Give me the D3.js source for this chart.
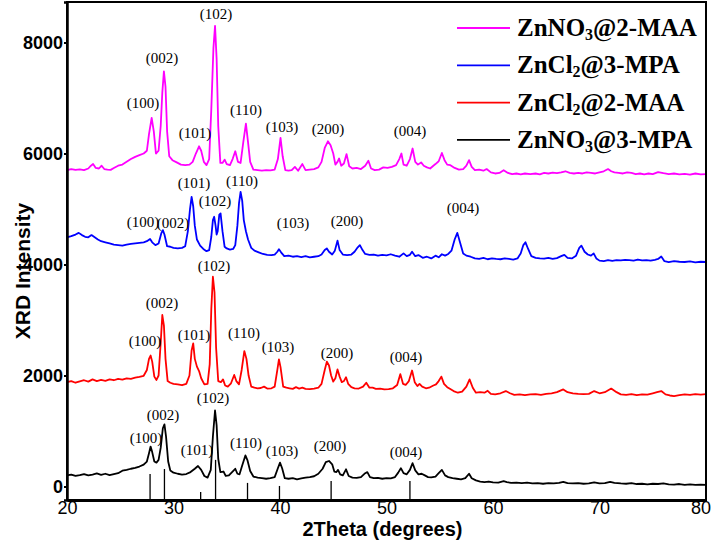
<!DOCTYPE html>
<html>
<head>
<meta charset="utf-8">
<script src="https://cdn.jsdelivr.net/npm/d3@7"></script>
<style>
  html, body { margin: 0; padding: 0; background: #fff; }
  svg { display: block; }
</style>
</head>
<body>
<svg id="chart" width="715" height="540"></svg>
<script>
// ---------- DATA ----------
const xTicks = [20, 30, 40, 50, 60, 70, 80];
const yTicks = [0, 2000, 4000, 6000, 8000];

const seriesNames = ["ZnNO3@2-MAA", "ZnCl2@3-MPA", "ZnCl2@2-MAA", "ZnNO3@3-MPA"];
const seriesColors = ["#ff00ff", "#0000ff", "#ff0000", "#000000"];

// [2theta, intensity]
const magentaData = [[20.0,5700],[20.4,5720],[20.8,5705],[21.2,5715],[21.6,5700],[22.0,5730],[22.25,5780],[22.45,5810],[22.7,5740],[23.0,5730],[23.25,5780],[23.5,5720],[23.8,5710],[24.1,5705],[24.4,5740],[24.8,5780],[25.2,5800],[25.6,5850],[26.0,5900],[26.4,5940],[26.8,5970],[27.2,6000],[27.5,6050],[27.7,6350],[27.95,6640],[28.15,6400],[28.35,6000],[28.6,6050],[28.8,6500],[28.95,7100],[29.1,7480],[29.25,7200],[29.4,6400],[29.6,5950],[29.9,5880],[30.3,5840],[30.7,5800],[31.1,5790],[31.5,5800],[31.8,5850],[32.1,6000],[32.4,6130],[32.6,6050],[32.85,5850],[33.1,5790],[33.35,5900],[33.55,6800],[33.75,7900],[33.9,8300],[34.05,7700],[34.2,6500],[34.4,5830],[34.6,5830],[34.8,5890],[35.0,5810],[35.3,5790],[35.55,5900],[35.8,6040],[36.05,5850],[36.3,5830],[36.55,6200],[36.8,6540],[37.0,6200],[37.2,5850],[37.5,5710],[37.9,5700],[38.3,5690],[38.7,5700],[39.1,5695],[39.5,5710],[39.8,5900],[40.05,6280],[40.25,5950],[40.5,5700],[40.8,5690],[41.1,5700],[41.4,5760],[41.7,5690],[42.1,5810],[42.4,5700],[42.8,5710],[43.2,5720],[43.6,5750],[43.9,5850],[44.2,6100],[44.5,6220],[44.75,6150],[45.0,6000],[45.2,5800],[45.4,5850],[45.55,5910],[45.75,5780],[46.0,5820],[46.25,5990],[46.5,5770],[46.8,5730],[47.2,5740],[47.6,5720],[48.0,5780],[48.3,5870],[48.55,5730],[48.9,5700],[49.3,5710],[49.7,5750],[50.1,5740],[50.5,5760],[50.9,5790],[51.2,5900],[51.4,6000],[51.6,5800],[51.9,5780],[52.2,5900],[52.45,6090],[52.7,5850],[52.95,5800],[53.25,5840],[53.5,5780],[53.8,5750],[54.1,5730],[54.4,5780],[54.6,5810],[54.9,5860],[55.2,6010],[55.45,5880],[55.7,5800],[56.0,5790],[56.4,5740],[56.8,5710],[57.2,5720],[57.5,5780],[57.75,5880],[58.0,5760],[58.3,5700],[58.7,5710],[59.1,5690],[59.4,5720],[59.8,5660],[60.2,5640],[60.6,5650],[61.0,5700],[61.4,5650],[61.8,5630],[62.2,5640],[62.6,5625],[63.0,5640],[63.5,5630],[64.0,5640],[64.4,5625],[64.8,5650],[65.2,5640],[65.6,5655],[66.0,5645],[66.4,5660],[66.8,5680],[67.2,5650],[67.6,5640],[68.0,5650],[68.4,5640],[68.8,5660],[69.2,5650],[69.6,5640],[70.0,5660],[70.4,5680],[70.8,5720],[71.1,5680],[71.4,5660],[71.8,5650],[72.2,5640],[72.6,5660],[73.0,5650],[73.4,5630],[73.8,5640],[74.2,5625],[74.6,5640],[75.0,5630],[75.5,5665],[76.0,5645],[76.5,5630],[77.0,5640],[77.5,5625],[78.0,5635],[78.5,5620],[79.0,5640],[79.5,5625],[80.0,5630]];

const blueData = [[20.0,4490],[20.4,4510],[20.8,4540],[21.1,4570],[21.4,4530],[21.7,4500],[22.0,4490],[22.3,4530],[22.6,4490],[22.9,4450],[23.2,4420],[23.6,4400],[24.0,4380],[24.4,4360],[24.8,4350],[25.2,4340],[25.6,4360],[26.0,4370],[26.4,4380],[26.8,4390],[27.2,4400],[27.5,4420],[27.8,4460],[28.0,4400],[28.3,4350],[28.6,4380],[28.85,4560],[29.0,4620],[29.15,4540],[29.4,4330],[29.7,4320],[30.0,4300],[30.4,4290],[30.8,4300],[31.1,4330],[31.35,4600],[31.55,5000],[31.7,5220],[31.85,5050],[32.0,4700],[32.2,4450],[32.5,4340],[32.8,4280],[33.1,4240],[33.35,4260],[33.55,4500],[33.7,4800],[33.82,4860],[33.95,4700],[34.05,4540],[34.15,4600],[34.3,4900],[34.42,4920],[34.6,4600],[34.8,4320],[35.0,4290],[35.3,4270],[35.6,4280],[35.8,4350],[36.0,4700],[36.15,5100],[36.3,5310],[36.45,5150],[36.6,4800],[36.8,4600],[37.0,4450],[37.3,4300],[37.6,4250],[38.0,4220],[38.4,4190],[38.8,4175],[39.2,4170],[39.5,4180],[39.75,4230],[39.9,4275],[40.1,4220],[40.4,4150],[40.8,4160],[41.2,4140],[41.6,4150],[42.0,4135],[42.4,4150],[42.8,4130],[43.2,4140],[43.6,4150],[43.9,4180],[44.2,4260],[44.4,4290],[44.6,4230],[44.9,4180],[45.15,4250],[45.4,4430],[45.6,4260],[45.9,4180],[46.3,4170],[46.7,4180],[47.0,4230],[47.3,4310],[47.5,4350],[47.75,4260],[48.0,4190],[48.4,4175],[48.8,4180],[49.2,4160],[49.6,4175],[50.0,4165],[50.4,4185],[50.8,4160],[51.2,4140],[51.6,4200],[51.9,4150],[52.2,4175],[52.4,4230],[52.7,4150],[53.0,4170],[53.4,4120],[53.8,4140],[54.2,4110],[54.6,4160],[54.9,4130],[55.2,4185],[55.5,4160],[55.8,4190],[56.1,4250],[56.4,4450],[56.65,4570],[56.9,4400],[57.2,4200],[57.5,4160],[57.9,4140],[58.3,4110],[58.7,4100],[59.1,4120],[59.5,4095],[59.9,4110],[60.3,4100],[60.7,4095],[61.1,4110],[61.5,4100],[61.9,4090],[62.3,4110],[62.6,4200],[62.85,4350],[63.05,4400],[63.3,4280],[63.6,4150],[64.0,4120],[64.4,4110],[64.8,4105],[65.2,4120],[65.6,4100],[66.0,4115],[66.4,4150],[66.7,4175],[67.0,4120],[67.4,4110],[67.8,4160],[68.1,4300],[68.3,4340],[68.6,4230],[68.9,4180],[69.2,4160],[69.45,4200],[69.7,4110],[70.0,4070],[70.4,4060],[70.8,4080],[71.2,4065],[71.6,4080],[72.0,4075],[72.4,4085],[72.8,4080],[73.2,4070],[73.6,4090],[74.0,4075],[74.4,4080],[74.8,4070],[75.2,4085],[75.5,4100],[75.8,4145],[76.1,4060],[76.5,4045],[77.0,4060],[77.5,4050],[78.0,4045],[78.5,4055],[79.0,4040],[79.5,4050],[80.0,4045]];

const redData = [[20.0,1880],[20.4,1900],[20.8,1870],[21.2,1895],[21.6,1915],[22.0,1890],[22.4,1930],[22.8,1900],[23.2,1920],[23.6,1905],[24.0,1930],[24.4,1915],[24.8,1940],[25.2,1925],[25.6,1950],[26.0,1940],[26.4,1960],[26.8,1975],[27.2,1995],[27.5,2100],[27.7,2300],[27.85,2360],[28.0,2250],[28.2,1980],[28.4,1920],[28.6,2000],[28.8,2600],[28.95,3090],[29.1,2900],[29.25,2300],[29.45,1900],[29.7,1870],[30.0,1850],[30.4,1840],[30.8,1825],[31.2,1850],[31.5,2000],[31.7,2450],[31.85,2580],[32.0,2300],[32.2,2160],[32.4,2080],[32.6,1950],[32.9,1840],[33.2,1850],[33.4,2200],[33.55,3200],[33.7,3780],[33.85,3500],[34.0,2500],[34.2,1900],[34.45,1880],[34.65,1930],[34.85,1820],[35.1,1800],[35.4,1860],[35.7,2010],[35.9,1900],[36.15,1840],[36.4,2100],[36.65,2440],[36.85,2300],[37.05,2000],[37.3,1800],[37.6,1780],[37.9,1770],[38.2,1775],[38.5,1800],[38.8,1765],[39.2,1770],[39.5,1800],[39.75,2100],[39.9,2290],[40.05,2150],[40.3,1800],[40.6,1780],[40.9,1770],[41.2,1760],[41.5,1790],[41.8,1765],[42.1,1780],[42.4,1760],[42.8,1755],[43.2,1765],[43.6,1780],[43.9,1850],[44.2,2100],[44.4,2250],[44.6,2180],[44.8,2000],[45.0,1890],[45.2,1950],[45.4,2110],[45.6,1980],[45.8,1880],[46.0,1900],[46.2,1970],[46.4,1850],[46.7,1790],[47.0,1770],[47.4,1765],[47.8,1800],[48.1,1870],[48.4,1780],[48.7,1780],[49.0,1760],[49.4,1765],[49.8,1750],[50.2,1755],[50.6,1770],[51.0,1830],[51.3,2025],[51.55,1850],[51.8,1830],[52.1,1900],[52.4,2090],[52.65,1880],[52.9,1810],[53.1,1850],[53.35,1800],[53.7,1770],[54.0,1780],[54.4,1820],[54.65,1840],[54.9,1900],[55.15,1980],[55.4,1850],[55.7,1790],[55.95,1760],[56.3,1720],[56.7,1690],[57.1,1710],[57.5,1800],[57.8,1930],[58.1,1780],[58.4,1690],[58.8,1700],[59.2,1690],[59.5,1725],[59.8,1670],[60.2,1660],[60.7,1680],[61.2,1720],[61.6,1680],[62.0,1650],[62.5,1660],[63.0,1645],[63.5,1660],[64.0,1665],[64.5,1650],[65.0,1670],[65.5,1680],[66.0,1700],[66.6,1750],[67.0,1700],[67.5,1680],[68.0,1670],[68.5,1665],[69.0,1670],[69.5,1720],[70.0,1680],[70.5,1700],[71.1,1765],[71.6,1700],[72.0,1660],[72.5,1650],[73.0,1665],[73.5,1645],[74.0,1660],[74.5,1655],[75.0,1680],[75.4,1700],[75.8,1720],[76.2,1660],[76.6,1640],[77.0,1630],[77.5,1645],[78.0,1660],[78.5,1650],[79.0,1665],[79.5,1655],[80.0,1665]];

const blackData = [[20.0,200],[20.4,215],[20.8,190],[21.2,205],[21.6,225],[22.0,200],[22.4,215],[22.8,235],[23.2,210],[23.6,230],[24.0,205],[24.4,225],[24.8,240],[25.2,285],[25.6,300],[26.0,320],[26.4,335],[26.8,360],[27.2,395],[27.5,450],[27.7,600],[27.85,720],[28.0,620],[28.2,450],[28.4,430],[28.6,480],[28.8,700],[29.0,1050],[29.15,1120],[29.3,900],[29.5,450],[29.7,290],[30.0,250],[30.4,230],[30.8,215],[31.2,225],[31.6,260],[32.0,320],[32.3,370],[32.6,300],[32.9,190],[33.2,160],[33.5,300],[33.7,900],[33.9,1370],[34.05,1100],[34.2,500],[34.4,260],[34.7,270],[34.9,190],[35.2,200],[35.5,260],[35.8,320],[36.0,230],[36.2,220],[36.45,380],[36.75,560],[36.95,470],[37.2,280],[37.5,180],[37.9,160],[38.3,150],[38.7,140],[39.1,150],[39.5,170],[39.8,330],[40.0,430],[40.2,330],[40.45,150],[40.8,140],[41.2,150],[41.6,130],[42.0,145],[42.4,160],[42.8,170],[43.2,185],[43.6,230],[44.0,320],[44.3,440],[44.6,460],[44.9,400],[45.1,270],[45.3,260],[45.45,300],[45.65,220],[45.9,200],[46.2,310],[46.45,190],[46.8,160],[47.2,155],[47.6,170],[48.0,240],[48.2,260],[48.45,170],[48.8,150],[49.2,155],[49.6,140],[50.0,150],[50.4,145],[50.8,170],[51.1,250],[51.35,330],[51.6,240],[51.9,220],[52.2,300],[52.45,420],[52.7,290],[53.0,220],[53.3,230],[53.6,200],[53.9,170],[54.2,165],[54.6,180],[54.9,240],[55.2,300],[55.5,200],[55.8,170],[56.2,150],[56.6,140],[57.0,130],[57.4,150],[57.75,230],[58.0,150],[58.4,110],[58.8,90],[59.2,80],[59.6,90],[60.0,75],[60.5,70],[61.0,95],[61.3,80],[61.7,65],[62.2,70],[62.7,60],[63.2,70],[63.7,55],[64.2,60],[64.7,50],[65.2,60],[65.7,55],[66.2,65],[66.6,85],[67.0,60],[67.5,55],[68.0,60],[68.5,50],[69.0,55],[69.5,75],[70.0,55],[70.5,60],[71.0,85],[71.4,65],[72.0,55],[72.5,50],[73.0,60],[73.5,45],[74.0,50],[74.5,40],[75.0,50],[75.5,45],[76.0,55],[76.5,40],[77.0,35],[77.5,45],[78.0,30],[78.5,40],[79.0,30],[79.5,35],[80.0,30]];

// reference stick pattern under the black curve: [2theta, top intensity]
const refSticks = [[27.8,225],[29.15,315],[32.55,-100],[33.95,480],[36.95,65],[39.95,10],[44.8,100],[52.2,100]];

// peak labels per series: [hkl, 2theta, intensity at label baseline]
const magentaLabels = [["(100)",27.14,6820],["(002)",28.92,7631],["(101)",32.02,6279],["(102)",33.99,8423],["(110)",36.81,6694],["(103)",40.19,6387],["(200)",44.51,6351],["(004)",52.21,6315]];
const blueLabels = [["(100)",27.14,4676],["(002)",29.95,4658],["(101)",31.92,5378],["(102)",33.9,5054],["(110)",36.43,5414],["(103)",41.22,4658],["(200)",46.29,4694],["(004)",57.18,4928]];
const redLabels = [["(100)",27.32,2532],["(002)",28.92,3216],["(101)",31.92,2640],["(102)",33.8,3883],["(110)",36.62,2676],["(103)",39.81,2423],["(200)",45.35,2315],["(004)",51.83,2243]];
const blackLabels = [["(100)",27.42,784],["(002)",29.01,1198],["(101)",32.21,568],["(102)",33.71,1505],["(110)",36.81,694],["(103)",40.19,550],["(200)",44.69,640],["(004)",51.83,532]];

const xTitle = "2Theta (degrees)";
const yTitle = "XRD Intensity";

// ---------- DRAWING ----------
const W = 715, H = 540;
const margin = {left: 67, right: 9, top: 2, bottom: 40};
const svg = d3.select("#chart");
const x = d3.scaleLinear().domain([20, 80]).range([margin.left, W - margin.right]);
const y = d3.scaleLinear().domain([-243, 8730]).range([H - margin.bottom, margin.top]);

const line = d3.line().x(d => x(d[0])).y(d => y(d[1]));

const allSeries = [magentaData, blueData, redData, blackData];
const allLabels = [magentaLabels, blueLabels, redLabels, blackLabels];

// reference sticks
svg.append("g").selectAll("line").data(refSticks).join("line")
  .attr("x1", d => x(d[0])).attr("x2", d => x(d[0]))
  .attr("y1", y(-243)).attr("y2", d => y(d[1]))
  .attr("stroke", "#000").attr("stroke-width", 1.3);

// curves
[3, 2, 1, 0].forEach(i => {
  svg.append("path").datum(allSeries[i])
    .attr("fill", "none")
    .attr("stroke", seriesColors[i])
    .attr("stroke-width", 1.8)
    .attr("stroke-linejoin", "round")
    .attr("d", line);
});

// peak labels
allLabels.forEach(labels => {
  svg.append("g").selectAll("text").data(labels).join("text")
    .attr("x", d => x(d[1])).attr("y", d => y(d[2]))
    .attr("text-anchor", "middle")
    .attr("font-family", "'Liberation Serif', 'Times New Roman', serif")
    .attr("font-size", 15)
    .attr("fill", "#000")
    .text(d => d[0]);
});

// frame
const x0 = x(20), x1 = x(80), yb = y(-243), yt = y(8730);
svg.append("rect").attr("x", x0).attr("y", yt).attr("width", x1 - x0).attr("height", yb - yt)
  .attr("fill", "none").attr("stroke", "#000").attr("stroke-width", 2);

// axes
const yAxis = d3.axisLeft(y).tickValues(yTicks).tickSize(3).tickPadding(1).tickFormat(d3.format("d"));
const gy = svg.append("g").attr("transform", `translate(${x0},0)`).call(yAxis);
gy.select(".domain").attr("stroke-width", 2.5);
gy.selectAll(".tick line").attr("stroke-width", 2);
gy.selectAll("text").attr("font-family", "Arial, 'Liberation Sans', sans-serif")
  .attr("font-weight", "bold").attr("font-size", 18).attr("fill", "#000");

const xAxis = d3.axisBottom(x).tickValues(xTicks).tickSize(0).tickPadding(1).tickFormat(d3.format("d"));
const gx = svg.append("g").attr("transform", `translate(0,${yb})`).call(xAxis);
gx.select(".domain").attr("stroke-width", 3);
gx.selectAll("text").attr("font-family", "Arial, 'Liberation Sans', sans-serif")
  .attr("font-size", 18).attr("fill", "#000");
gx.selectAll(".tick").filter(d => d === 80).select("text").attr("dx", "-0.3em");

// axis titles
svg.append("text").attr("x", (x0 + x1) / 2 - 4).attr("y", 536)
  .attr("text-anchor", "middle")
  .attr("font-family", "Arial, 'Liberation Sans', sans-serif")
  .attr("font-weight", "bold").attr("font-size", 20)
  .text(xTitle);
svg.append("text")
  .attr("transform", `translate(30,${(yt + yb) / 2 + 20}) rotate(-90)`)
  .attr("text-anchor", "middle")
  .attr("font-family", "Arial, 'Liberation Sans', sans-serif")
  .attr("font-weight", "bold").attr("font-size", 21)
  .text(yTitle);

// legend
const legend = svg.append("g");
seriesNames.forEach((name, i) => {
  const ly = 28 + i * 37.3;
  legend.append("line").attr("x1", 457).attr("x2", 510).attr("y1", ly).attr("y2", ly)
    .attr("stroke", seriesColors[i]).attr("stroke-width", 1.8);
  const m = name.match(/^(\D+)(\d)(.*)$/);
  const t = legend.append("text").attr("x", 517).attr("y", ly + 8)
    .attr("font-family", "'Liberation Serif', 'Times New Roman', serif")
    .attr("font-weight", "bold").attr("font-size", 25).attr("fill", "#000");
  t.append("tspan").text(m[1]);
  t.append("tspan").attr("font-size", 16).attr("dy", 4).text(m[2]);
  t.append("tspan").attr("dy", -4).text(m[3]);
});
</script>
</body>
</html>
